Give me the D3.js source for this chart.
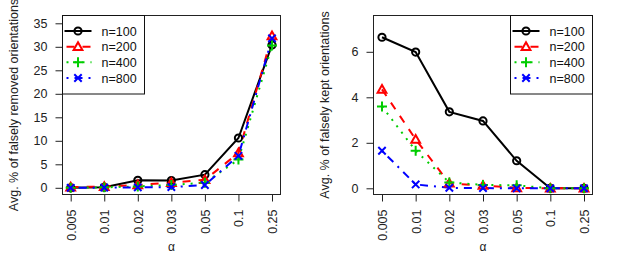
<!DOCTYPE html>
<html><head><meta charset="utf-8">
<script src="https://cdn.jsdelivr.net/npm/d3@7"></script>
<style>body{margin:0;background:#fff}svg{display:block;font-family:"Liberation Sans",Arial,Helvetica,sans-serif}</style>
</head><body>
<script>
const alphas = ["0.005","0.01","0.02","0.03","0.05","0.1","0.25"];
const seriesNames = ["n=100","n=200","n=400","n=800"];
// Avg. % of falsely removed orientations
const removed100 = [0.0, 0.1, 1.6, 1.55, 2.8, 10.6, 30.4];
const removed200 = [0.15, 0.25, 0.6, 1.1, 1.7, 7.4, 32.3];
const removed400 = [0.0, 0.1, 0.3, 0.6, 1.1, 6.0, 30.3];
const removed800 = [0.0, 0.05, 0.1, 0.15, 0.6, 6.8, 31.8];
// Avg. % of falsely kept orientations
const kept100 = [6.64, 5.99, 3.36, 2.96, 1.21, 0.0, 0.0];
const kept200 = [4.35, 2.15, 0.22, 0.12, 0.02, 0.0, 0.0];
const kept400 = [3.6, 1.65, 0.26, 0.15, 0.13, 0.0, 0.0];
const kept800 = [1.65, 0.17, 0.02, 0.01, 0.0, 0.0, 0.0];
const yTicksLeft = [0,5,10,15,20,25,30,35];
const yTicksRight = [0,2,4,6];

const colors = ["#000000","#ff0000","#00cd00","#0000ff"];
const dashes = [null, "8,8", "2,6", "2,6,8,6"];
const shapes = ["circle","triangle","plus","cross"];

const svg = d3.select("body").append("svg").attr("width",623).attr("height",273);

function marker(g, shape, x, y, color){
  if(shape==="circle"){
    g.append("circle").attr("cx",x).attr("cy",y).attr("r",3.6).attr("fill","none").attr("stroke",color).attr("stroke-width",2);
  } else if(shape==="triangle"){
    const s=4.4;
    g.append("path").attr("d",`M${x},${y-s}L${x+s*1.0},${y+s*0.75}L${x-s*1.0},${y+s*0.75}Z`).attr("fill","none").attr("stroke",color).attr("stroke-width",2);
  } else if(shape==="plus"){
    const s=5;
    g.append("path").attr("d",`M${x-s},${y}H${x+s}M${x},${y-s}V${y+s}`).attr("stroke",color).attr("stroke-width",2);
  } else {
    const s=3.7;
    g.append("path").attr("d",`M${x-s},${y-s}L${x+s},${y+s}M${x-s},${y+s}L${x+s},${y-s}`).attr("stroke",color).attr("stroke-width",2);
  }
}

function panel(opt){
  const g = svg.append("g");
  const x = d3.scalePoint().domain(alphas).range(opt.xRange);
  const y = d3.scaleLinear().domain(opt.yDomain).range(opt.yRange);
  // box
  g.append("rect").attr("x",opt.box[0]).attr("y",opt.box[1]).attr("width",opt.box[2]-opt.box[0]).attr("height",opt.box[3]-opt.box[1])
    .attr("fill","none").attr("stroke","#222").attr("stroke-width",1);
  // y axis
  const ya = g.append("g").attr("transform",`translate(${opt.box[0]},0)`)
    .call(d3.axisLeft(y).tickValues(opt.yTicks).tickSize(7).tickPadding(8).tickFormat(d3.format("d")));
  ya.select(".domain").remove();
  ya.selectAll("line").attr("stroke","#222");
  ya.selectAll("text").attr("font-size",12.5).attr("fill","#222").attr("font-family",null);
  // x axis
  const xa = g.append("g").attr("transform",`translate(0,${opt.box[3]})`)
    .call(d3.axisBottom(x).tickSize(7).tickPadding(0));
  xa.select(".domain").remove();
  xa.selectAll("line").attr("stroke","#222");
  xa.selectAll("text").attr("font-size",12.5).attr("fill","#222").attr("font-family",null)
    .attr("transform","rotate(-90)").attr("text-anchor","end").attr("dy","0.35em").attr("x",-15).attr("y",0);
  // axis titles
  g.append("text").attr("x",(opt.box[0]+opt.box[2])/2).attr("y",251).attr("text-anchor","middle")
    .attr("font-size",12).attr("fill","#222").text("α");
  g.append("text").attr("transform",`translate(${opt.titleX},${(opt.box[1]+opt.box[3])/2}) rotate(-90)`)
    .attr("text-anchor","middle").attr("font-size",12.5).attr("fill","#222").text(opt.title);
  // series
  const line = d3.line().x((d,i)=>x(alphas[i])).y(d=>y(d));
  opt.series.forEach((s,k)=>{
    g.append("path").datum(s).attr("d",line).attr("fill","none").attr("stroke",colors[k]).attr("stroke-width",2)
      .attr("stroke-dasharray",dashes[k]);
  });
  opt.series.forEach((s,k)=>{
    s.forEach((v,i)=>marker(g,shapes[k],x(alphas[i]),y(v),colors[k]));
  });
  // legend
  const lx = opt.legendX, ly = opt.box[1];
  const lg = g.append("g");
  lg.append("rect").attr("x",lx).attr("y",ly).attr("width",82).attr("height",78.5).attr("fill","#fff").attr("stroke","#111").attr("stroke-width",1);
  const rows = [31,46.7,62.3,78];
  seriesNames.forEach((n,k)=>{
    const ry = rows[k];
    lg.append("line").attr("x1",lx+2).attr("x2",lx+29).attr("y1",ry).attr("y2",ry).attr("stroke",colors[k]).attr("stroke-width",2)
      .attr("stroke-dasharray",dashes[k]).attr("stroke-dashoffset", k===0?0:-2);
    marker(lg,shapes[k],lx+15.5,ry,colors[k]);
    lg.append("text").attr("x",lx+39).attr("y",ry+4.5).attr("font-size",12.5).attr("fill","#111").text(n);
  });
}

panel({xRange:[70.7,272], yDomain:[0,35], yRange:[187.8,23.3], box:[62.5,15.5,280.5,194.5], yTicks:yTicksLeft,
  titleX:18, title:"Avg. % of falsely removed orientations", legendX:62.5,
  series:[removed100,removed200,removed400,removed800]});
panel({xRange:[382,584], yDomain:[0,6], yRange:[188.3,51.8], box:[373.5,15.5,592.5,194.5], yTicks:yTicksRight,
  titleX:329, title:"Avg. % of falsely kept orientations", legendX:510.5,
  series:[kept100,kept200,kept400,kept800]});
</script>
</body></html>
